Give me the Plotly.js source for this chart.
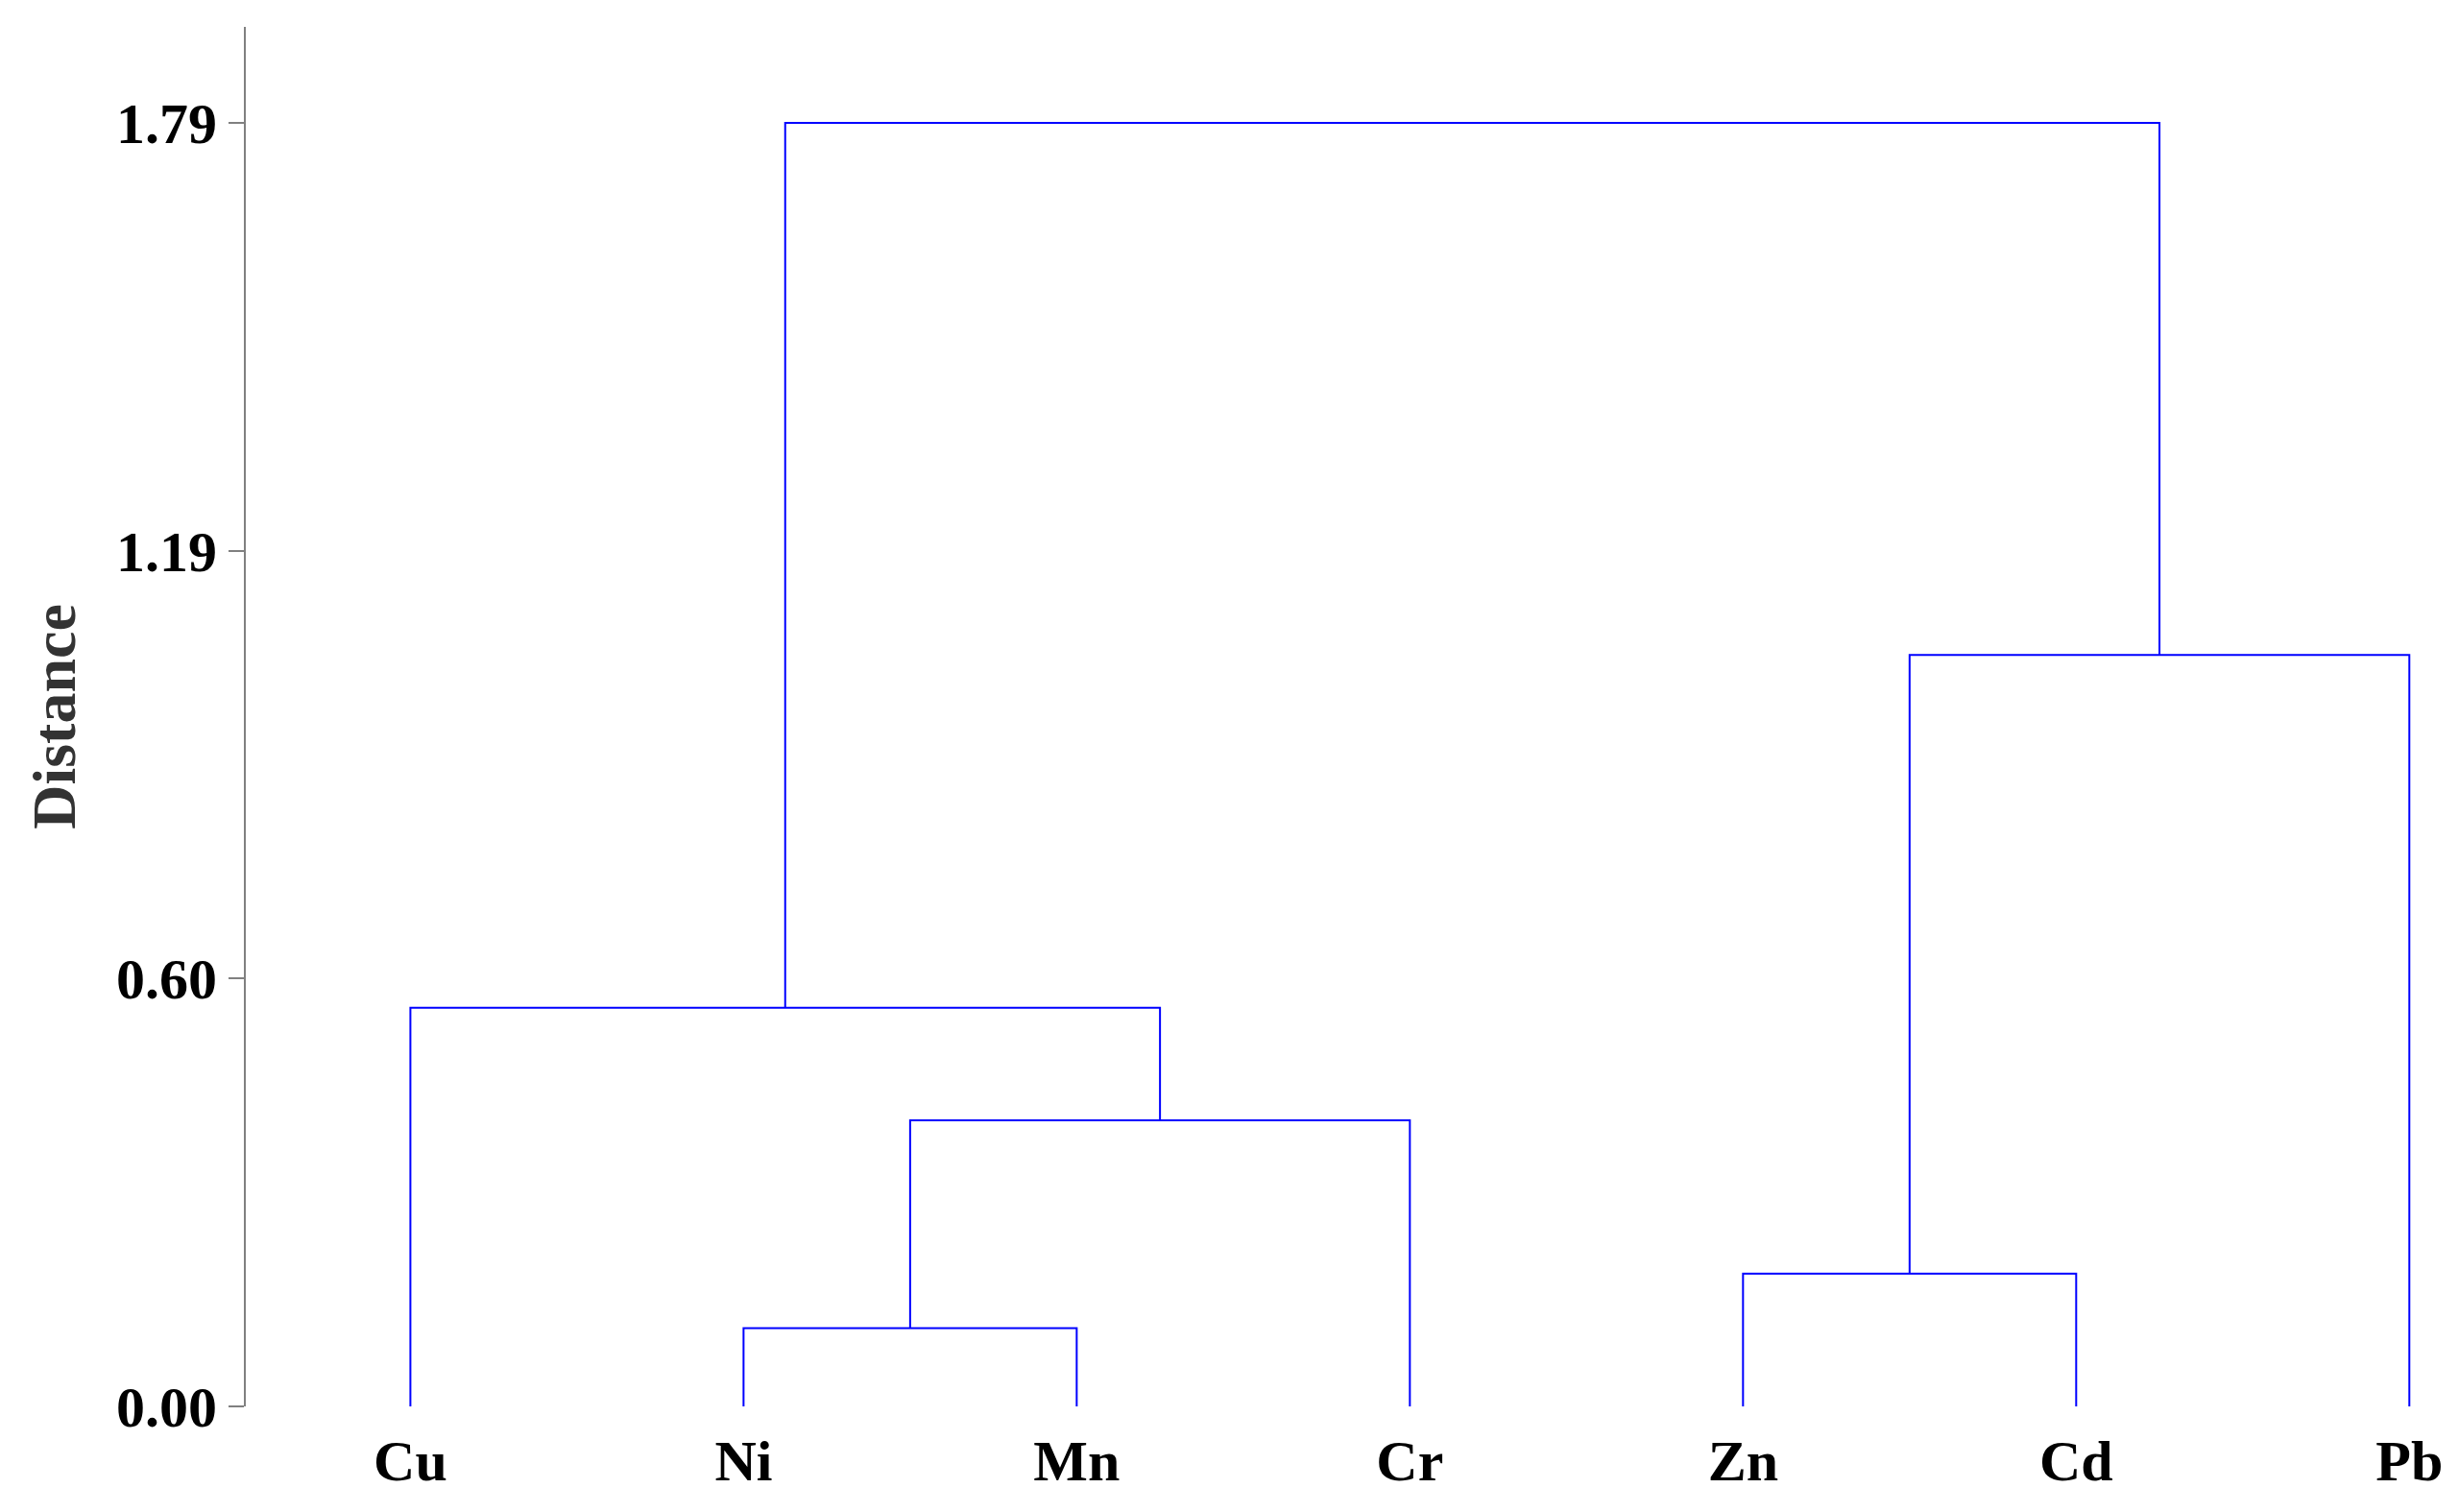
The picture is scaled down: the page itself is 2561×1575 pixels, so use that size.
<!DOCTYPE html>
<html>
<head>
<meta charset="utf-8">
<script src="https://cdn.plot.ly/plotly-3.0.1.min.js"></script>
<style>
  html, body { margin: 0; padding: 0; background: #ffffff; }
  #chart { width: 2561px; height: 1575px; }
</style>
</head>
<body>
<div id="chart"></div>
<script>
// Leaves in dendrogram order
const leaves = ['Cu', 'Ni', 'Mn', 'Cr', 'Zn', 'Cd', 'Pb'];

// Linkage (scipy-style): indices 0..6 are leaves, 7+ are clusters formed in order
const mergeLeft   = [1, 4, 7, 0, 8, 10];
const mergeRight  = [2, 5, 3, 9, 6, 11];
const mergeHeight = [0.109, 0.185, 0.399, 0.556, 1.048, 1.79];

// Y tick values and labels
const yTickVals   = [0, 1.79 / 3, 2 * 1.79 / 3, 1.79];
const yTickLabels = ['0.00', '0.60', '1.19', '1.79'];

// Build node positions from the linkage
const nodeX = leaves.map((_, i) => i);
const nodeH = leaves.map(() => 0);
const xs = [], ys = [];
for (let k = 0; k < mergeLeft.length; k++) {
  const a = mergeLeft[k], b = mergeRight[k], h = mergeHeight[k];
  xs.push(nodeX[a], nodeX[a], nodeX[b], nodeX[b], null);
  ys.push(nodeH[a], h, h, nodeH[b], null);
  nodeX.push((nodeX[a] + nodeX[b]) / 2);
  nodeH.push(h);
}

const fontFam = '"Liberation Serif", "Times New Roman", serif';

const trace = {
  type: 'scatter',
  mode: 'lines',
  x: xs,
  y: ys,
  connectgaps: false,
  line: { color: '#0000ff', width: 2 },
  hoverinfo: 'skip',
  showlegend: false
};

const layout = {
  width: 2561,
  height: 1575,
  paper_bgcolor: '#ffffff',
  plot_bgcolor: '#ffffff',
  margin: { l: 256, r: 8, t: 28, b: 110 },
  showlegend: false,
  font: { family: fontFam, color: '#000000' },
  xaxis: {
    range: [-0.494, 6.126],
    showgrid: false,
    zeroline: false,
    showline: false,
    ticks: '',
    tickmode: 'array',
    tickvals: leaves.map((_, i) => i),
    ticktext: leaves.map(s => '<b>' + s + '</b>'),
    tickfont: { family: fontFam, size: 60, color: '#000000' },
    ticklabelstandoff: 16,
    fixedrange: true
  },
  yaxis: {
    range: [0, 1.924],
    showgrid: false,
    zeroline: false,
    showline: true,
    linecolor: '#808080',
    linewidth: 2,
    ticks: 'outside',
    ticklen: 16,
    tickwidth: 2,
    tickcolor: '#808080',
    tickmode: 'array',
    tickvals: yTickVals,
    ticktext: yTickLabels.map(s => '<b>' + s + '</b>'),
    tickfont: { family: fontFam, size: 60, color: '#000000' },
    title: {
      text: '<b>Distance</b>',
      font: { family: fontFam, size: 64, color: '#333333' },
      standoff: 22
    },
    fixedrange: true
  }
};

Plotly.newPlot('chart', [trace], layout, { staticPlot: true, displayModeBar: false });
</script>
</body>
</html>
